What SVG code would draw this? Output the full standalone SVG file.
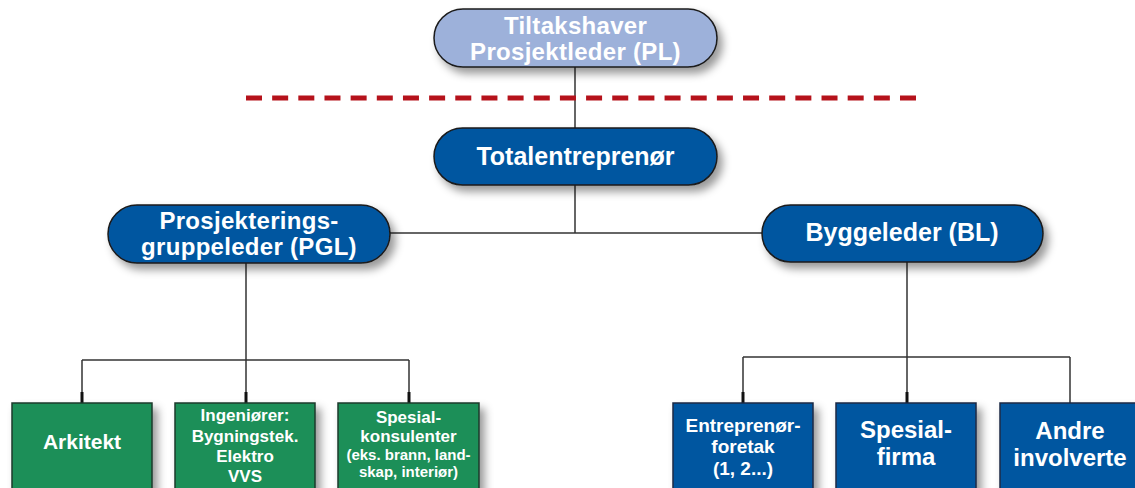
<svg xmlns="http://www.w3.org/2000/svg" width="1135" height="488" viewBox="0 0 1135 488">
<defs>
<filter id="sh" x="-20%" y="-30%" width="150%" height="180%">
<feDropShadow dx="5" dy="6" stdDeviation="4.5" flood-color="#000" flood-opacity="0.4"/>
</filter>
<style>
text{font-family:"Liberation Sans",Arial,sans-serif;font-weight:bold;fill:#fff;text-anchor:middle}
.pill{stroke:#1a1a1a;stroke-width:1.5}
.light{fill:#9db1da}
.blue{fill:#0656a0}
.green{fill:#1f8f59;stroke:#1d3b2b;stroke-width:1.5}
.bbox{fill:#0656a0;stroke:#1a2a44;stroke-width:1.5}
.ln{stroke:#333;stroke-width:1.5;fill:none}
.stub{stroke:#111;stroke-width:3;fill:none}
.big{font-size:25px}
.big2{font-size:24px;letter-spacing:0.3px}
.mid{font-size:17px}
.sm{font-size:15px}
</style>
</defs>
<rect width="1135" height="488" fill="#fff"/>

<g id="connectors">
<line class="ln" x1="575" y1="67" x2="575" y2="128"/>
<line class="ln" x1="575" y1="185" x2="575" y2="233"/>
<line class="ln" x1="390" y1="233" x2="762" y2="233"/>
<line class="ln" x1="246" y1="263" x2="246" y2="403"/>
<line class="ln" x1="82" y1="360" x2="409" y2="360"/>
<line class="ln" x1="82" y1="360" x2="82" y2="403"/>
<line class="ln" x1="409" y1="360" x2="409" y2="403"/>
<line class="stub" x1="82" y1="392" x2="82" y2="403"/>
<line class="stub" x1="246" y1="392" x2="246" y2="403"/>
<line class="stub" x1="409" y1="392" x2="409" y2="403"/>
<line class="ln" x1="907" y1="262" x2="907" y2="403"/>
<line class="ln" x1="743" y1="357" x2="1070" y2="357"/>
<line class="ln" x1="743" y1="357" x2="743" y2="403"/>
<line class="ln" x1="1070" y1="357" x2="1070" y2="403"/>
<line class="stub" x1="743" y1="392" x2="743" y2="403"/>
<line class="stub" x1="907" y1="392" x2="907" y2="403"/>
</g>

<line id="divider" x1="246" y1="98" x2="916" y2="98" stroke="#b5121b" stroke-width="5" stroke-dasharray="16 10.16"/>

<g id="tiltakshaver">
<rect class="pill light" x="434" y="9" width="283" height="58" rx="29" filter="url(#sh)"/>
<text class="big2" x="575.5" y="34">Tiltakshaver</text>
<text class="big2" x="575.5" y="60">Prosjektleder (PL)</text>
</g>

<g id="totalentreprenor">
<rect class="pill blue" x="434" y="128" width="283" height="57" rx="28.5" filter="url(#sh)"/>
<text class="big" x="575.5" y="165">Totalentreprenør</text>
</g>

<g id="pgl">
<rect class="pill blue" x="108" y="205" width="282" height="58" rx="29" filter="url(#sh)"/>
<text class="big2" x="249" y="229">Prosjekterings-</text>
<text class="big2" x="249" y="255">gruppeleder (PGL)</text>
</g>

<g id="bl">
<rect class="pill blue" x="762" y="205" width="281" height="57" rx="28.5" filter="url(#sh)"/>
<text class="big" x="902" y="241">Byggeleder (BL)</text>
</g>

<g id="arkitekt">
<rect class="green" x="12" y="403" width="140" height="90" filter="url(#sh)"/>
<text x="82" y="449" style="font-size:21px">Arkitekt</text>
</g>

<g id="ingeniorer">
<rect class="green" x="175" y="403" width="140" height="90" filter="url(#sh)"/>
<text class="mid" x="245" y="421">Ingeniører:</text>
<text class="mid" x="245" y="442">Bygningstek.</text>
<text class="mid" x="245" y="462">Elektro</text>
<text class="mid" x="245" y="482">VVS</text>
</g>

<g id="spesialkonsulenter">
<rect class="green" x="338" y="403" width="141" height="90" filter="url(#sh)"/>
<text class="mid" x="408.5" y="423">Spesial-</text>
<text class="mid" x="408.5" y="442">konsulenter</text>
<text class="sm" x="408.5" y="460">(eks. brann, land-</text>
<text class="sm" x="408.5" y="477">skap, interiør)</text>
</g>

<g id="entreprenorforetak">
<rect class="bbox" x="673" y="403" width="140" height="90" filter="url(#sh)"/>
<text x="743" y="432" style="font-size:19px">Entreprenør-</text>
<text x="743" y="453" style="font-size:19px">foretak</text>
<text x="743" y="475" style="font-size:19px">(1, 2...)</text>
</g>

<g id="spesialfirma">
<rect class="bbox" x="836" y="403" width="140" height="90" filter="url(#sh)"/>
<text x="906" y="438" style="font-size:24px">Spesial-</text>
<text x="906" y="465" style="font-size:24px">firma</text>
</g>

<g id="andre">
<rect class="bbox" x="1000" y="403" width="140" height="90" filter="url(#sh)"/>
<text x="1070" y="439" style="font-size:24px">Andre</text>
<text x="1070" y="466" style="font-size:24px">involverte</text>
</g>
</svg>
